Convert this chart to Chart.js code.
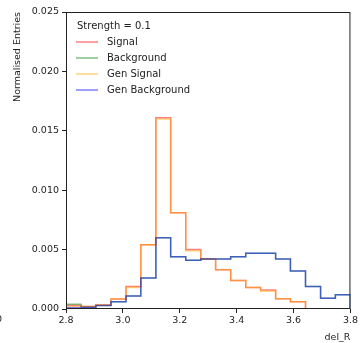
<!DOCTYPE html>
<html>
<head>
<meta charset="utf-8">
<script src="https://cdn.jsdelivr.net/npm/chart.js@4"></script>
<style>
  html, body { margin: 0; padding: 0; background: #fff; }
  #wrap { width: 360px; height: 343px; position: relative; }
</style>
</head>
<body>
<div id="wrap"><canvas id="chart" width="360" height="343"></canvas></div>
<script>
const binEdges = [2.8, 2.853, 2.905, 2.958, 3.011, 3.063, 3.116, 3.168, 3.221, 3.274,
  3.326, 3.379, 3.432, 3.484, 3.537, 3.589, 3.642, 3.695, 3.747, 3.8];

const signal = [0.0003, 0.0002, 0.00034, 0.00084, 0.0019, 0.0054, 0.0161, 0.0081, 0.0050, 0.0042,
  0.0033, 0.0024, 0.0018, 0.0016, 0.00087, 0.0006, 0, 0, 0];
const background = [0.0004, 0.00015, 0.0003, 0.0006, 0.0011, 0.0026, 0.0060, 0.0044, 0.0041, 0.0042,
  0.0042, 0.0044, 0.0047, 0.0047, 0.0042, 0.0032, 0.0019, 0.0009, 0.0012];
const genSignal = [0.0002, 0.0002, 0.00034, 0.00084, 0.0018, 0.0054, 0.0160, 0.0081, 0.0049, 0.0042,
  0.0033, 0.0024, 0.0018, 0.0015, 0.00087, 0.0006, 0, 0, 0];
const genBackground = [0.0001, 0.00015, 0.0003, 0.0006, 0.0011, 0.0026, 0.0060, 0.0044, 0.0041, 0.0042,
  0.0042, 0.0044, 0.0047, 0.0047, 0.0042, 0.0032, 0.0019, 0.0009, 0.0012];

const yTicks = [0, 0.005, 0.01, 0.015, 0.02, 0.025];
const xTicks = [2.8, 3.0, 3.2, 3.4, 3.6, 3.8];
const legendTitle = "Strength = 0.1";

const font = "'DejaVu Sans', sans-serif";

// step histogram outline: drop to 0 at both ends
function steps(vals) {
  const pts = [{ x: binEdges[0], y: 0 }];
  vals.forEach((v, i) => pts.push({ x: binEdges[i], y: v }));
  pts.push({ x: binEdges[binEdges.length - 1], y: vals[vals.length - 1] });
  pts.push({ x: binEdges[binEdges.length - 1], y: 0 });
  return pts;
}

function series(label, vals, color, order) {
  return {
    label: label,
    data: steps(vals),
    borderColor: color,
    borderWidth: 1.5,
    stepped: "before",
    pointRadius: 0,
    fill: false,
    order: order,
  };
}

const frameAndLegend = {
  id: "frameAndLegend",
  afterDraw(chart) {
    const { ctx, chartArea: a } = chart;
    ctx.save();
    ctx.strokeStyle = "#222";
    ctx.lineWidth = 1;
    ctx.strokeRect(a.left + 0.5, a.top + 0.5, a.right - a.left - 1, a.bottom - a.top - 1);

    ctx.font = "10px " + font;
    ctx.textBaseline = "middle";
    ctx.fillStyle = "#222";
    ctx.fillText(legendTitle, a.left + 11, a.top + 14);
    chart.data.datasets.forEach((ds, i) => {
      const y = a.top + 30 + i * 16;
      ctx.strokeStyle = ds.borderColor;
      ctx.lineWidth = 1.5;
      ctx.beginPath();
      ctx.moveTo(a.left + 10, y);
      ctx.lineTo(a.left + 32, y);
      ctx.stroke();
      ctx.fillStyle = "#222";
      ctx.fillText(ds.label, a.left + 41, y);
    });
    // clipped tick label of the neighbouring panel
    ctx.font = "9.5px " + font;
    ctx.textAlign = "center";
    ctx.fillText("0", -1, 320);
    ctx.restore();
  },
};

const config = {
  type: "line",
  data: {
    datasets: [
      series("Signal", signal, "rgba(255, 0, 0, 0.5)", 4),
      series("Background", background, "rgba(0, 128, 0, 0.5)", 3),
      series("Gen Signal", genSignal, "rgba(255, 165, 0, 0.5)", 2),
      series("Gen Background", genBackground, "rgba(0, 0, 255, 0.5)", 1),
    ],
  },
  options: {
    responsive: false,
    animation: false,
    layout: { padding: { top: 12, right: 8, left: 0, bottom: 0 } },
    plugins: { legend: { display: false }, tooltip: { enabled: false } },
    scales: {
      x: {
        type: "linear",
        min: 2.8,
        max: 3.8,
        afterBuildTicks: (s) => { s.ticks = xTicks.map((v) => ({ value: v })); },
        afterFit: (s) => { s.height = 34; },
        ticks: {
          callback: (v) => v.toFixed(1),
          font: { family: font, size: 9.5 },
          color: "#222",
          padding: 2,
          maxRotation: 0,
        },
        grid: { drawOnChartArea: false, drawTicks: true, tickLength: 4, color: "#222" },
        border: { display: false },
        title: {
          display: true,
          text: "del_R",
          align: "end",
          font: { family: font, size: 9.5 },
          color: "#222",
          padding: { top: 4, bottom: 0 },
        },
      },
      y: {
        min: 0,
        max: 0.025,
        afterBuildTicks: (s) => { s.ticks = yTicks.map((v) => ({ value: v })); },
        afterFit: (s) => { s.width = 66; },
        ticks: {
          callback: (v) => v.toFixed(3),
          font: { family: font, size: 9.5 },
          color: "#222",
          padding: 3,
        },
        grid: { drawOnChartArea: false, drawTicks: true, tickLength: 4, color: "#222" },
        border: { display: false },
        title: {
          display: true,
          text: "Normalised Entries",
          align: "end",
          font: { family: font, size: 9.5 },
          color: "#222",
          padding: { top: 12, bottom: 0 },
        },
      },
    },
  },
  plugins: [frameAndLegend],
};

const myChart = new Chart(document.querySelector("#chart").getContext("2d"), config);
</script>
</body>
</html>
